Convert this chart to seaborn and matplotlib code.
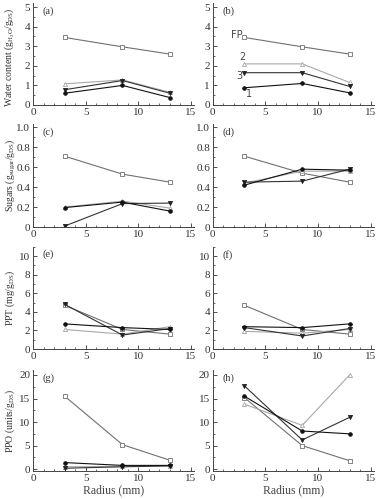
import seaborn as sns
import matplotlib.pyplot as plt
from matplotlib.ticker import MultipleLocator, FuncFormatter

# radius positions (mm)
radius = [3, 8.5, 13]

# series: FP (open square), 2 (open triangle), 3 (filled down-triangle), 1 (filled circle)
water_a = {"FP": [3.45, 2.97, 2.6], "2": [1.08, 1.28, 0.65], "3": [0.78, 1.25, 0.6], "1": [0.6, 1.0, 0.38]}
water_b = {"FP": [3.45, 2.97, 2.6], "2": [2.1, 2.1, 1.15], "3": [1.65, 1.65, 0.95], "1": [0.88, 1.1, 0.62]}
sugar_c = {"FP": [0.71, 0.53, 0.45], "2": [0.2, 0.26, 0.19], "3": [0.01, 0.235, 0.24], "1": [0.195, 0.25, 0.16]}
sugar_d = {"FP": [0.71, 0.54, 0.45], "2": [0.44, 0.56, 0.56], "3": [0.45, 0.46, 0.58], "1": [0.42, 0.58, 0.57]}
ppt_e = {"FP": [4.7, 2.1, 1.6], "2": [2.1, 1.6, 2.4], "3": [4.8, 1.5, 2.2], "1": [2.7, 2.3, 2.1]}
ppt_f = {"FP": [4.7, 2.1, 1.6], "2": [1.9, 1.7, 2.1], "3": [2.3, 1.4, 2.2], "1": [2.4, 2.3, 2.7]}
ppo_g = {"FP": [15.5, 5.2, 1.9], "2": [0.5, 0.6, 0.7], "3": [0.2, 0.5, 0.7], "1": [1.4, 0.8, 0.8]}
ppo_h = {"FP": [15.2, 5.0, 1.8], "2": [13.8, 9.3, 20.0], "3": [17.7, 6.2, 11.0], "1": [15.5, 8.1, 7.5]}

panels = [
    ("(a)", water_a), ("(b)", water_b),
    ("(c)", sugar_c), ("(d)", sugar_d),
    ("(e)", ppt_e), ("(f)", ppt_f),
    ("(g)", ppo_g), ("(h)", ppo_h),
]

ylabels = [
    r"Water content (g$_{\mathregular{H_2O}}$/g$_{\mathregular{DS}}$)",
    r"Sugars (g$_{\mathregular{sugar}}$/g$_{\mathregular{DS}}$)",
    r"PPT (mg/g$_{\mathregular{DS}}$)",
    r"PPO (units/g$_{\mathregular{DS}}$)",
]
ylims = [(0, 5.2), (0, 1.03), (0, 11), (-0.4, 21)]
ymajor = [1, 0.2, 2, 5]
yminor = [0.5, 0.1, 1, 2.5]

styles = {
    "FP": dict(marker="s", color="#707070", mfc="white", mec="#707070", ms=2.6),
    "2": dict(marker="^", color="#a8a8a8", mfc="white", mec="#a8a8a8", ms=3),
    "3": dict(marker="v", color="#333333", mfc="#222222", mec="#222222", ms=3),
    "1": dict(marker="o", color="#111111", mfc="#111111", mec="#111111", ms=2.6),
}

sns.set_style("ticks")
plt.rcParams["font.family"] = ["Liberation Serif", "DejaVu Serif"]
plt.rcParams["mathtext.fontset"] = "custom"
plt.rcParams["mathtext.rm"] = "Liberation Serif"
plt.rcParams["mathtext.it"] = "Liberation Serif:italic"

fig = plt.figure(figsize=(3.76, 4.99), dpi=100)
row_bottoms = [0.7896, 0.545, 0.3006, 0.056]
row_heights = [0.204, 0.206, 0.205, 0.202]
col_lefts = [0.088, 0.566]

for i, (tag, series) in enumerate(panels):
    r, c = divmod(i, 2)
    ax = fig.add_axes([col_lefts[c], row_bottoms[r], 0.428, row_heights[r]])
    for name in ["FP", "2", "3", "1"]:
        st = styles[name]
        sns.lineplot(x=radius, y=series[name], ax=ax, marker=st["marker"],
                     color=st["color"], markerfacecolor=st["mfc"],
                     markeredgecolor=st["mec"], markersize=st["ms"],
                     markeredgewidth=0.6, linewidth=0.8)
    ax.set_xlim(0, 15.3)
    ax.set_ylim(*ylims[r])
    ax.set_xticks([0, 5, 10, 15])
    ax.xaxis.set_minor_locator(MultipleLocator(1))
    ax.yaxis.set_major_locator(MultipleLocator(ymajor[r]))
    ax.yaxis.set_minor_locator(MultipleLocator(yminor[r]))
    ax.yaxis.set_major_formatter(FuncFormatter(lambda v, p: "0" if abs(v) < 1e-9 else f"{v:g}"))
    if r == 1:
        ax.yaxis.set_major_formatter(FuncFormatter(lambda v, p: "0" if abs(v) < 1e-9 else f"{v:.1f}"))
    ax.tick_params(axis="both", which="major", direction="in", length=3, width=0.6,
                   labelsize=8, pad=2, colors="#333333")
    ax.tick_params(axis="both", which="minor", direction="in", length=1.5, width=0.5)
    for sp in ["left", "bottom"]:
        ax.spines[sp].set_linewidth(0.7)
        ax.spines[sp].set_color("#444444")
    sns.despine(ax=ax)
    ax.text(0.06, 0.97, tag, transform=ax.transAxes, fontsize=7.5, va="top", ha="left", color="#333333")
    if c == 0:
        ax.set_ylabel(ylabels[r], fontsize=7, color="#333333")
        ax.yaxis.set_label_coords(-0.1, 0.5 if r else 0.47)
    if r == 3:
        ax.set_xlabel("Radius (mm)", fontsize=8.5, labelpad=1, color="#444444")
    if tag == "(b)":
        for lab, (lx, ly) in zip(["FP", "2", "3", "1"],
                                 [(2.3, 3.57), (2.8, 2.45), (2.5, 1.48), (3.4, 0.56)]):
            ax.text(lx, ly, lab, fontsize=7, family=["DejaVu Sans"], color="#444444",
                    ha="center", va="center")

fig.savefig("out.png", dpi=100)
